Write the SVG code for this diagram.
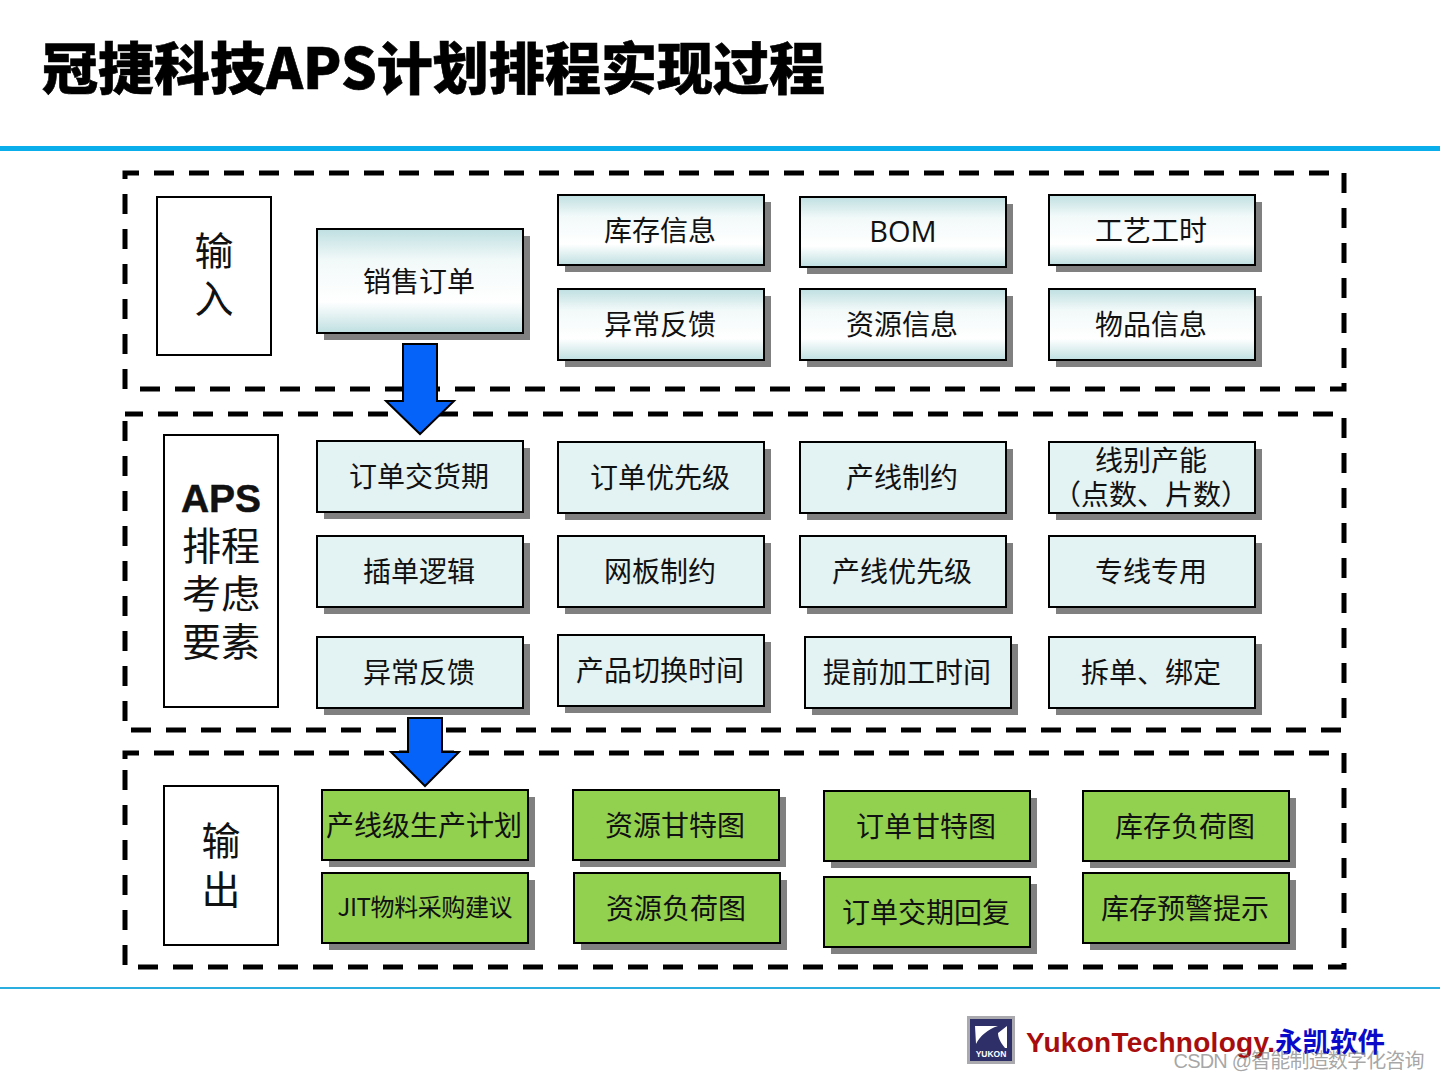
<svg xmlns="http://www.w3.org/2000/svg" width="1440" height="1080" viewBox="0 0 1440 1080">
<defs>
<linearGradient id="g" x1="0" y1="0" x2="0" y2="1">
<stop offset="0" stop-color="#bfdfe1"/><stop offset="0.3" stop-color="#f2f9f9"/><stop offset="0.7" stop-color="#ffffff"/><stop offset="1" stop-color="#bfdfe1"/>
</linearGradient>
</defs>
<style>
text{font-family:"Noto Sans CJK SC","Liberation Sans",sans-serif;text-anchor:middle;fill:#111}
.t{font-size:28px;font-weight:400;transform:translate(-1px,1px)}
.side{font-size:39px;font-weight:400}
.s{fill:#808080;transform:translate(1px,1px)}
.b{stroke:#000;stroke-width:2}
.grad{fill:url(#g)}
.pale{fill:#e3f2f3}
.green{fill:#92d050}
.white{fill:#fff}
.dash{fill:none;stroke:#000;stroke-width:5;stroke-dasharray:20 15}
.arrow{fill:#0563fa;stroke:#000;stroke-width:2;stroke-linejoin:miter}
</style>
<rect width="1440" height="1080" fill="#fff"/>
<text id="title" x="42" y="89" textLength="783" style="text-anchor:start;font-size:56px;font-weight:900;fill:#000;stroke:#000;stroke-width:.6">冠捷科技APS计划排程实现过程</text>
<rect x="0" y="146" width="1440" height="5" fill="#0aaeea"/>
<rect x="0" y="987" width="1440" height="2" fill="#2aaee0"/>
<g id="frames">
<path class="dash" d="M125 179V173H1344V389H125V179"/>
<path class="dash" style="stroke-dashoffset:2" d="M125 414H1344V730H125V414"/>
<path class="dash" d="M125 759V753H1344V967H125V759"/>
</g>
<g id="side-labels">
<g id="n-input"><rect class="white b" x="157" y="197" width="114" height="158"/><text class="side" x="214" y="265">输</text><text class="side" x="214" y="313">入</text></g>
<g id="n-aps"><rect class="white b" x="164" y="435" width="114" height="272"/><text x="221" y="512" style="font-family:'Liberation Sans',sans-serif;font-size:39px;font-weight:700;stroke:#111;stroke-width:.5">APS</text><text class="side" x="221" y="560">排程</text><text class="side" x="221" y="608">考虑</text><text class="side" x="221" y="656">要素</text></g>
<g id="n-output"><rect class="white b" x="164" y="786" width="114" height="159"/><text class="side" x="221" y="855">输</text><text class="side" x="221" y="904">出</text></g>
</g>
<g id="input-nodes">
<g id="n1"><rect class="s" x="323" y="235" width="206" height="104"/><rect class="grad b" x="317" y="229" width="206" height="104"/><text class="t" x="420" y="291">销售订单</text></g>
<g id="n2"><rect class="s" x="564" y="201" width="206" height="70"/><rect class="grad b" x="558" y="195" width="206" height="70"/><text class="t" x="661" y="240">库存信息</text></g>
<g id="n3"><rect class="s" x="806" y="203" width="206" height="70"/><rect class="grad b" x="800" y="197" width="206" height="70"/><text class="t" x="904" y="241" style="font-family:'Open Sans','Noto Sans CJK SC',sans-serif;font-size:29px">BOM</text></g>
<g id="n4"><rect class="s" x="1055" y="201" width="206" height="70"/><rect class="grad b" x="1049" y="195" width="206" height="70"/><text class="t" x="1152" y="240">工艺工时</text></g>
<g id="n5"><rect class="s" x="564" y="295" width="206" height="71"/><rect class="grad b" x="558" y="289" width="206" height="71"/><text class="t" x="661" y="334">异常反馈</text></g>
<g id="n6"><rect class="s" x="806" y="295" width="206" height="71"/><rect class="grad b" x="800" y="289" width="206" height="71"/><text class="t" x="903" y="334">资源信息</text></g>
<g id="n7"><rect class="s" x="1055" y="295" width="206" height="71"/><rect class="grad b" x="1049" y="289" width="206" height="71"/><text class="t" x="1152" y="334">物品信息</text></g>
</g>
<g id="aps-nodes">
<g id="a1"><rect class="s" x="323" y="447" width="206" height="71"/><rect class="pale b" x="317" y="441" width="206" height="71"/><text class="t" x="420" y="486">订单交货期</text></g>
<g id="a2"><rect class="s" x="564" y="448" width="206" height="71"/><rect class="pale b" x="558" y="442" width="206" height="71"/><text class="t" x="661" y="487">订单优先级</text></g>
<g id="a3"><rect class="s" x="806" y="448" width="206" height="71"/><rect class="pale b" x="800" y="442" width="206" height="71"/><text class="t" x="903" y="487">产线制约</text></g>
<g id="a4"><rect class="s" x="1055" y="448" width="206" height="71"/><rect class="pale b" x="1049" y="442" width="206" height="71"/><text class="t" x="1152" y="470">线别产能</text><text class="t" x="1152" y="504">（点数、片数）</text></g>
<g id="a5"><rect class="s" x="323" y="542" width="206" height="71"/><rect class="pale b" x="317" y="536" width="206" height="71"/><text class="t" x="420" y="581">插单逻辑</text></g>
<g id="a6"><rect class="s" x="564" y="542" width="206" height="71"/><rect class="pale b" x="558" y="536" width="206" height="71"/><text class="t" x="661" y="581">网板制约</text></g>
<g id="a7"><rect class="s" x="806" y="542" width="206" height="71"/><rect class="pale b" x="800" y="536" width="206" height="71"/><text class="t" x="903" y="581">产线优先级</text></g>
<g id="a8"><rect class="s" x="1055" y="542" width="206" height="71"/><rect class="pale b" x="1049" y="536" width="206" height="71"/><text class="t" x="1152" y="581">专线专用</text></g>
<g id="a9"><rect class="s" x="323" y="643" width="206" height="71"/><rect class="pale b" x="317" y="637" width="206" height="71"/><text class="t" x="420" y="682">异常反馈</text></g>
<g id="a10"><rect class="s" x="564" y="641" width="206" height="71"/><rect class="pale b" x="558" y="635" width="206" height="71"/><text class="t" x="661" y="680">产品切换时间</text></g>
<g id="a11"><rect class="s" x="811" y="643" width="206" height="71"/><rect class="pale b" x="805" y="637" width="206" height="71"/><text class="t" x="908" y="682">提前加工时间</text></g>
<g id="a12"><rect class="s" x="1055" y="643" width="206" height="71"/><rect class="pale b" x="1049" y="637" width="206" height="71"/><text class="t" x="1152" y="682">拆单、绑定</text></g>
</g>
<g id="output-nodes">
<g id="o1"><rect class="s" x="328" y="796" width="206" height="70"/><rect class="green b" x="322" y="790" width="206" height="70"/><text class="t" x="425" y="835">产线级生产计划</text></g>
<g id="o2"><rect class="s" x="579" y="796" width="206" height="70"/><rect class="green b" x="573" y="790" width="206" height="70"/><text class="t" x="676" y="835">资源甘特图</text></g>
<g id="o3"><rect class="s" x="830" y="797" width="206" height="70"/><rect class="green b" x="824" y="791" width="206" height="70"/><text class="t" x="927" y="836">订单甘特图</text></g>
<g id="o4"><rect class="s" x="1089" y="797" width="206" height="70"/><rect class="green b" x="1083" y="791" width="206" height="70"/><text class="t" x="1186" y="836">库存负荷图</text></g>
<g id="o5"><rect class="s" x="328" y="879" width="206" height="70"/><rect class="green b" x="322" y="873" width="206" height="70"/><text x="425" y="916" style="font-size:24px" textLength="175">JIT物料采购建议</text></g>
<g id="o6"><rect class="s" x="580" y="879" width="206" height="70"/><rect class="green b" x="574" y="873" width="206" height="70"/><text class="t" x="677" y="918">资源负荷图</text></g>
<g id="o7"><rect class="s" x="830" y="883" width="206" height="70"/><rect class="green b" x="824" y="877" width="206" height="70"/><text class="t" x="927" y="922">订单交期回复</text></g>
<g id="o8"><rect class="s" x="1089" y="879" width="206" height="70"/><rect class="green b" x="1083" y="873" width="206" height="70"/><text class="t" x="1186" y="918">库存预警提示</text></g>
</g>
<g id="connectors">
<path class="arrow" d="M403 344H437V401H454L420 434L386 401H403Z"/>
<path class="arrow" d="M408 718H442V752H459L425 786L391 752H408Z"/>
</g>
<g id="logo">
<rect x="967" y="1016" width="48" height="48" fill="#a9a9ae"/>
<rect x="970" y="1019" width="42" height="42" fill="#2e2e68"/>
<path d="M975 1026H998C988 1029 980 1036 976 1044Z" fill="#fff"/>
<path d="M1007 1026V1048H1005C1000 1042 998 1037 998 1033Z" fill="#fff"/>
<text x="991" y="1057" style="font-family:'Liberation Sans',sans-serif;font-size:8.5px;font-weight:700;fill:#fff">YUKON</text>
<text x="1026" y="1052" textLength="249" style="text-anchor:start;font-family:'Liberation Sans',sans-serif;font-size:28px;font-weight:700;fill:#a80d0d">YukonTechnology.</text>
<text x="1330" y="1052" style="font-size:27.5px;font-weight:700;fill:#0a0ac8">永凯软件</text>
<text x="1299" y="1068" textLength="251" style="font-family:'Liberation Sans','Noto Sans CJK SC',sans-serif;font-size:20px;fill:#808080;fill-opacity:.7">CSDN @智能制造数字化咨询</text>
</g>
</svg>
